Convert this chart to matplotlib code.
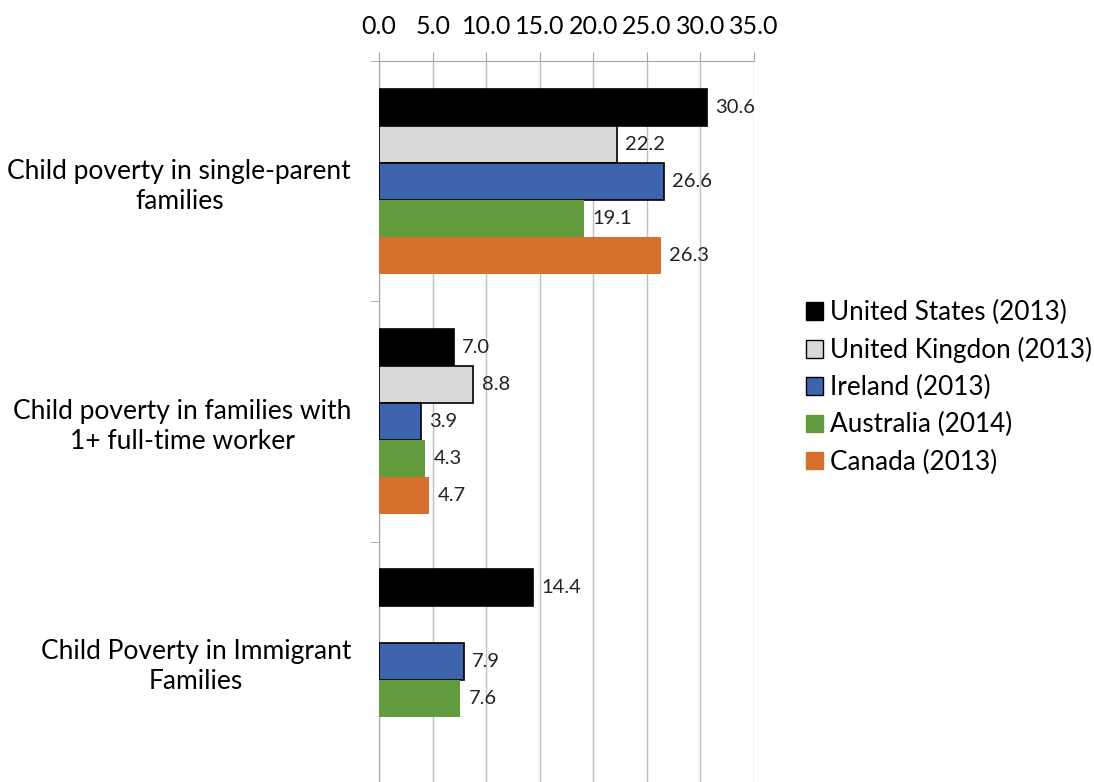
import numpy as np
import matplotlib
matplotlib.use('Agg')
import matplotlib.pyplot as plt
from matplotlib.patches import Patch

plt.rcParams['font.family'] = ['Lato', 'DejaVu Sans']

categories = ['Child poverty in single-parent\nfamilies',
              'Child poverty in families with\n1+ full-time worker',
              'Child Poverty in Immigrant\nFamilies']
series = ['United States (2013)', 'United Kingdon (2013)', 'Ireland (2013)',
          'Australia (2014)', 'Canada (2013)']
us = [30.6, 7.0, 14.4]
uk = [22.2, 8.8, np.nan]
ireland = [26.6, 3.9, 7.9]
australia = [19.1, 4.3, 7.6]
canada = [26.3, 4.7, np.nan]
values = [us, uk, ireland, australia, canada]

colors = ['#000000', '#D9D9D9', '#3D64AD', '#629B3D', '#D6702C']
edges = ['#000000', '#000000', '#000000', 'none', 'none']
xticks = [0, 5, 10, 15, 20, 25, 30, 35]

fig = plt.figure(figsize=(10.94, 7.82), dpi=100)
ax = fig.add_axes([379/1094, 0.0, 375/1094, 1 - 61/782])

h = 0.154
ypos = np.arange(len(categories))
for i, (vals, c, e) in enumerate(zip(values, colors, edges)):
    vals = np.array(vals, dtype=float)
    m = ~np.isnan(vals)
    y = ypos[m] + (i - 2) * h
    ax.barh(y, vals[m], height=h, color=c, edgecolor=e, linewidth=1.2, zorder=3)
    for yy, v in zip(y, vals[m]):
        ax.annotate(f'{v:.1f}', (v, yy), xytext=(6, 0), textcoords='offset points',
                    va='center', ha='left', fontsize=14.5, color='#222222')

ax.set_xlim(0, 35)
ax.set_ylim(2.5, -0.5)
ax.xaxis.tick_top()
ax.set_xticks(xticks)
ax.set_xticklabels([f'{t:.1f}' for t in xticks], fontsize=18)
ax.tick_params(axis='x', length=6.5, color='#A6A6A6', pad=10)
ax.set_yticks(ypos)
ax.set_yticklabels(categories, fontsize=19, multialignment='center', linespacing=1.25)
ax.set_yticks([-0.5, 0.5, 1.5, 2.5], minor=True)
ax.tick_params(axis='y', which='major', length=0, pad=20)
ax.tick_params(axis='y', which='minor', length=6.5, color='#A6A6A6')
ax.grid(axis='x', color='#BFBFBF', linewidth=1, zorder=0)
for s in ['right', 'bottom']:
    ax.spines[s].set_visible(False)
for s in ['top', 'left']:
    ax.spines[s].set_color('#A6A6A6')

handles = [Patch(facecolor=c, edgecolor=(e if e != 'none' else c), linewidth=1)
           for c, e in zip(colors, edges)]
fig.legend(handles, series, loc='upper left', bbox_to_anchor=(806/1094, 1 - 300/782),
           frameon=False, fontsize=18.8, handlelength=0.65, handleheight=0.65,
           handletextpad=0.27, labelspacing=0.46, borderaxespad=0, borderpad=0)

fig.savefig('out.png', dpi=100)
